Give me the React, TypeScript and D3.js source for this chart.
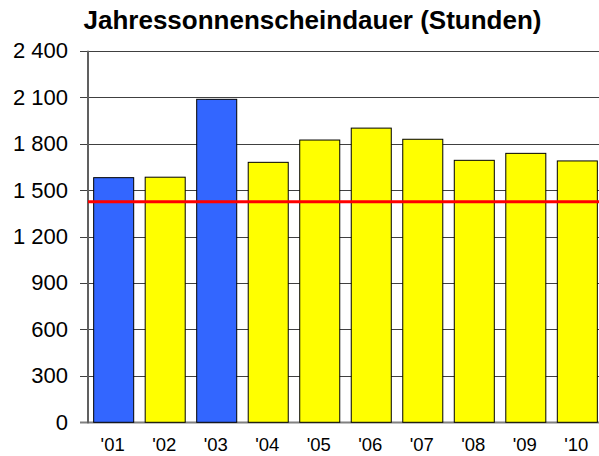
import React from "react";
import * as d3 from "d3";

const years = ["'01", "'02", "'03", "'04", "'05", "'06", "'07", "'08", "'09", "'10"];
const hours = [1580, 1583, 2086, 1679, 1823, 1900, 1828, 1692, 1737, 1688];
const barColors = ["#3366FF", "#FFFF00", "#3366FF", "#FFFF00", "#FFFF00", "#FFFF00", "#FFFF00", "#FFFF00", "#FFFF00", "#FFFF00"];
const yTicks = [0, 300, 600, 900, 1200, 1500, 1800, 2100, 2400];
const average = 1425;
const title = "Jahressonnenscheindauer (Stunden)";

const W = 599;
const H = 456;
const left = 88;
const right = 603;
const top = 50.7;
const bottom = 422.3;

const fmt = (v: number) => {
  const s = String(v);
  return s.length > 3 ? s.slice(0, s.length - 3) + " " + s.slice(s.length - 3) : s;
};

export default function App() {
  const x = d3.scaleBand<string>().domain(years).range([left, right]).paddingInner(0.223).paddingOuter(0.11);
  const y = d3.scaleLinear().domain([0, 2400]).range([bottom, top]);
  return (
    <svg width={W} height={H} style={{ position: "absolute", left: 0, top: 0, fontFamily: "Arial, 'Liberation Sans', sans-serif" }}>
      <rect x={0} y={0} width={W} height={H} fill="#fff" />
      <text x={312.5} y={29} textAnchor="middle" fontSize={26} fontWeight="bold" fill="#000">{title}</text>
      {yTicks.map((t) => (
        <g key={t}>
          <line x1={80} x2={right} y1={Math.round(y(t)) + 0.5} y2={Math.round(y(t)) + 0.5} stroke={t === 0 ? "#808080" : "#404040"} strokeWidth={t === 0 ? 2 : 1} />
          <text x={68} y={y(t) + 7.5} textAnchor="end" fontSize={22} fill="#000">{fmt(t)}</text>
        </g>
      ))}
      <line x1={88} x2={88} y1={top} y2={bottom + 1} stroke="#606060" strokeWidth={2} />
      {years.map((yr, i) => (
        <g key={yr}>
          <rect x={x(yr)!} y={y(hours[i])} width={x.bandwidth()} height={bottom - y(hours[i])} fill={barColors[i]} stroke="#000" strokeWidth={1} />
          <text x={x(yr)! + x.bandwidth() / 2 - 1} y={451} textAnchor="middle" fontSize={18.5} fill="#000">{yr}</text>
        </g>
      ))}
      <line x1={88} x2={right} y1={y(average)} y2={y(average)} stroke="#FF0000" strokeWidth={3} />
    </svg>
  );
}
